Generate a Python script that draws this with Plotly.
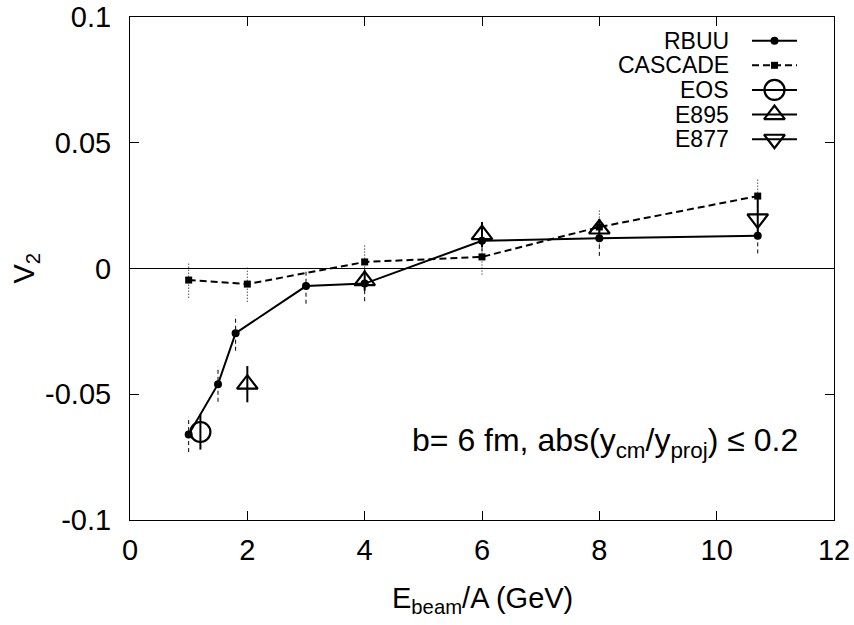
import plotly.graph_objects as go

# ---- data ----
rbuu_x = [1, 1.5, 1.8, 3, 4, 6, 8, 10.7]
rbuu_y = [-0.066, -0.046, -0.0257, -0.007, -0.006, 0.011, 0.012, 0.013]
rbuu_err = [0.007, 0.007, 0.007, 0.007, 0.007, 0.007, 0.007, 0.007]

casc_x = [1, 2, 4, 6, 8, 10.7]
casc_y = [-0.0046, -0.0062, 0.0026, 0.0046, 0.0165, 0.0288]
casc_err = [0.007, 0.007, 0.007, 0.007, 0.007, 0.007]

eos_x = [1.2]
eos_y = [-0.065]
eos_err = [0.007]

e895_x = [2, 4, 6, 8]
e895_y = [-0.046, -0.0048, 0.0135, 0.0157]
e895_err = [0.0072, 0.004, 0.005, 0.004]

e877_x = [10.7]
e877_y = [0.0197]
e877_err = [0.008]

legend_names = ["RBUU", "CASCADE", "EOS", "E895", "E877"]

FONT = "Liberation Sans, Arial, sans-serif"


def err_segments(xs, ys, es):
    sx, sy = [], []
    for x, y, e in zip(xs, ys, es):
        sx += [x, x, None]
        sy += [y - e, y + e, None]
    return sx, sy


fig = go.Figure()

# error bars
ex, ey = err_segments(rbuu_x, rbuu_y, rbuu_err)
fig.add_trace(go.Scatter(x=ex, y=ey, mode="lines", line=dict(color="black", width=1, dash="4px,3px"),
                         showlegend=False, hoverinfo="skip"))
ex, ey = err_segments(casc_x, casc_y, casc_err)
fig.add_trace(go.Scatter(x=ex, y=ey, mode="lines", line=dict(color="black", width=1, dash="1px,2px"),
                         showlegend=False, hoverinfo="skip"))

# model curves
fig.add_trace(go.Scatter(x=casc_x, y=casc_y, mode="lines+markers",
                         line=dict(color="black", width=2, dash="7px,4px"),
                         marker=dict(symbol="square", size=7, color="black"), showlegend=False))
fig.add_trace(go.Scatter(x=rbuu_x, y=rbuu_y, mode="lines+markers",
                         line=dict(color="black", width=2),
                         marker=dict(symbol="circle", size=8, color="black"), showlegend=False))

# experimental points
for xs, ys, es, sym, sz in [(eos_x, eos_y, eos_err, "circle-open", 20),
                            (e895_x, e895_y, e895_err, "triangle-up-open", 18),
                            (e877_x, e877_y, e877_err, "triangle-down-open", 18)]:
    ex, ey = err_segments(xs, ys, es)
    fig.add_trace(go.Scatter(x=ex, y=ey, mode="lines", line=dict(color="black", width=2),
                             showlegend=False, hoverinfo="skip"))
    fig.add_trace(go.Scatter(x=xs, y=ys, mode="markers",
                             marker=dict(symbol=sym, size=sz, color="black", line=dict(width=2.2, color="black")),
                             showlegend=False))

# ---- manual legend (on overlay axes in [0,1]) ----
row_y = [0.953, 0.904, 0.855, 0.806, 0.757]
lx0, lx1 = 0.8835, 0.9474
lxm = (lx0 + lx1) / 2
leg_styles = [
    dict(line=dict(color="black", width=2), marker=dict(symbol="circle", size=8, color="black")),
    dict(line=dict(color="black", width=2, dash="7px,4px"), marker=dict(symbol="square", size=7, color="black")),
    dict(line=dict(color="black", width=2), marker=dict(symbol="circle-open", size=20, color="black", line=dict(width=2.2))),
    dict(line=dict(color="black", width=2), marker=dict(symbol="triangle-up-open", size=18, color="black", line=dict(width=2.2))),
    dict(line=dict(color="black", width=2), marker=dict(symbol="triangle-down-open", size=18, color="black", line=dict(width=2.2))),
]
for name, yy, st in zip(legend_names, row_y, leg_styles):
    fig.add_trace(go.Scatter(x=[lx0, lx1], y=[yy, yy], xaxis="x2", yaxis="y2", mode="lines",
                             line=st["line"], showlegend=False, hoverinfo="skip"))
    fig.add_trace(go.Scatter(x=[lxm], y=[yy], xaxis="x2", yaxis="y2", mode="markers",
                             marker=st["marker"], showlegend=False, hoverinfo="skip"))
    fig.add_annotation(x=0.852, y=yy, xref="x2", yref="y2", text=name, showarrow=False,
                       xanchor="right", yanchor="middle", borderpad=0,
                       font=dict(family=FONT, size=23, color="black"))

fig.add_annotation(x=0.9517, y=0.155, xref="paper", yref="paper",
                   text="b= 6 fm, abs(y<sub>cm</sub>/y<sub>proj</sub>) ≤ 0.2", showarrow=False,
                   xanchor="right", yanchor="middle", font=dict(family=FONT, size=32, color="black"))

fig.add_annotation(x=-0.149, y=0.5, xref="paper", yref="paper", text="V<sub>2</sub>", textangle=-90,
                   showarrow=False, xanchor="center", yanchor="middle",
                   font=dict(family=FONT, size=29, color="black"))
fig.add_annotation(x=0.5, y=-0.159, xref="paper", yref="paper", text="E<sub>beam</sub>/A (GeV)",
                   showarrow=False, xanchor="center", yanchor="middle",
                   font=dict(family=FONT, size=29, color="black"))

axis_common = dict(showgrid=False, showline=True, linecolor="black", linewidth=1, mirror="ticks",
                   ticks="inside", ticklen=9, tickcolor="black", tickwidth=1, automargin=False,
                   ticklabeloverflow="allow",
                   tickfont=dict(family=FONT, size=29, color="black"))

fig.update_layout(
    width=854, height=625,
    margin=dict(l=130, r=20, t=17, b=105),
    paper_bgcolor="white", plot_bgcolor="white",
    showlegend=False,
    xaxis=dict(range=[0, 12], tickvals=[0, 2, 4, 6, 8, 10, 12], zeroline=False,
               ticklabelstandoff=4, **axis_common),
    yaxis=dict(range=[-0.1, 0.1], tickvals=[-0.1, -0.05, 0, 0.05, 0.1],
               ticktext=["-0.1", "-0.05", "0", "0.05", "0.1"], ticklabelstandoff=12,
               zeroline=True, zerolinecolor="black", zerolinewidth=1, **axis_common),
    xaxis2=dict(range=[0, 1], overlaying="x", visible=False, fixedrange=True),
    yaxis2=dict(range=[0, 1], overlaying="y", visible=False, fixedrange=True),
)

# remove the default 8px page margin so the figure fills the window exactly
fig.write_html("out.html", config={"displayModeBar": False},
               post_script="document.body.style.margin='0';")
